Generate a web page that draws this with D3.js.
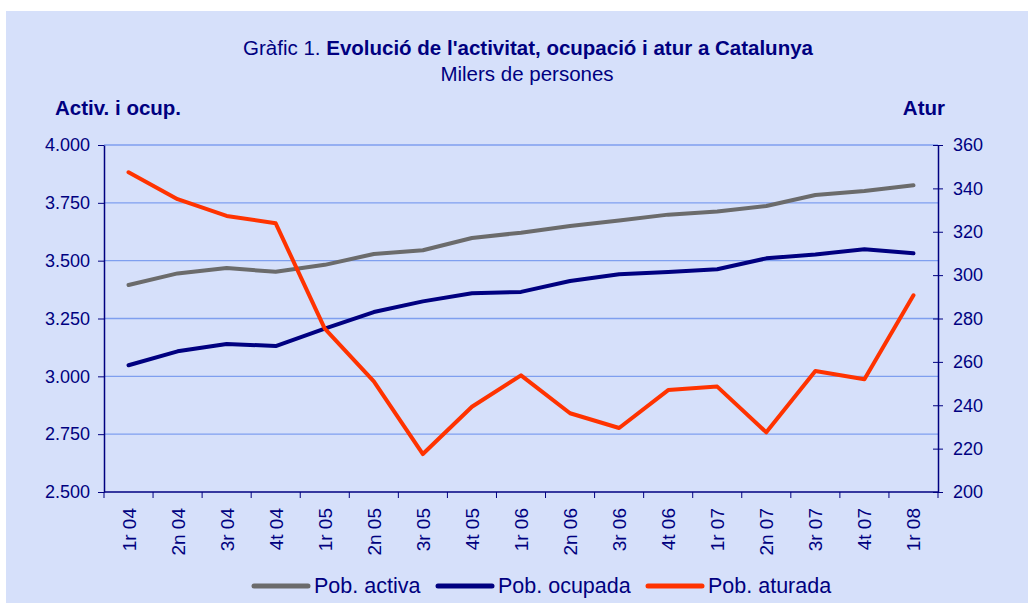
<!DOCTYPE html>
<html>
<head>
<meta charset="utf-8">
<script src="https://cdn.jsdelivr.net/npm/d3@7"></script>
<style>
  body { margin: 0; background: #fff; }
  svg text { font-family: "Liberation Sans", Arial, sans-serif; fill: #000080; }
</style>
</head>
<body>
<div id="chart"></div>
<script>
const quarters = ["1r 04","2n 04","3r 04","4t 04","1r 05","2n 05","3r 05","4t 05","1r 06","2n 06","3r 06","4t 06","1r 07","2n 07","3r 07","4t 07","1r 08"];
const activa  = [3395, 3445, 3468, 3452, 3482, 3529, 3545, 3598, 3621, 3650, 3674, 3699, 3713, 3736, 3784, 3801, 3826];
const ocupada = [3048, 3108, 3140, 3131, 3206, 3278, 3324, 3359, 3365, 3412, 3441, 3451, 3463, 3510, 3527, 3549, 3532];
const aturada = [347.4, 335.0, 327.3, 323.9, 275.3, 251.0, 217.5, 239.3, 253.8, 236.3, 229.5, 247.0, 248.6, 227.5, 255.8, 252.0, 290.7];
const leftTicks = [2500, 2750, 3000, 3250, 3500, 3750, 4000];
const rightTicks = [200, 220, 240, 260, 280, 300, 320, 340, 360];

const W = 1029, H = 603;
const plot = { l: 104, r: 938, t: 145, b: 492 };

const svg = d3.select("#chart").append("svg")
    .attr("width", W)
    .attr("height", H);

svg.append("rect")
    .attr("x", 6).attr("y", 11)
    .attr("width", 1022).attr("height", 592)
    .attr("fill", "#D6E0FA");

const x = d3.scaleBand().domain(quarters).range([plot.l, plot.r]);
const yL = d3.scaleLinear().domain([2500, 4000]).range([plot.b, plot.t]);
const yR = d3.scaleLinear().domain([200, 360]).range([plot.b, plot.t]);
const fmt = d => d3.format(",")(d).replace(",", ".");

// gridlines
svg.append("g")
    .selectAll("line")
    .data(leftTicks.slice(1))
    .join("line")
    .attr("x1", plot.l).attr("x2", plot.r)
    .attr("y1", d => yL(d)).attr("y2", d => yL(d))
    .attr("stroke", "#7F9FEF")
    .attr("stroke-width", 1.3);

// left axis
const gL = svg.append("g")
    .attr("transform", `translate(${plot.l},0)`)
    .call(d3.axisLeft(yL).tickValues(leftTicks).tickFormat(fmt).tickSize(6).tickSizeOuter(0));
gL.select(".domain").attr("stroke", "#000080").attr("stroke-width", 1.5);
gL.selectAll(".tick line").attr("stroke", "#000080");
gL.selectAll(".tick text").attr("x", -14).style("font-size", "18px").attr("fill", "#000080");

// right axis (ticks cross the line)
const gR = svg.append("g")
    .attr("transform", `translate(${plot.r},0)`)
    .call(d3.axisRight(yR).tickValues(rightTicks).tickSize(5).tickSizeOuter(0));
gR.select(".domain").attr("stroke", "#000080").attr("stroke-width", 1.5);
gR.selectAll(".tick line").attr("x1", -5).attr("stroke", "#000080");
gR.selectAll(".tick text").attr("x", 15).style("font-size", "18px").attr("fill", "#000080");

// bottom axis: ticks on category boundaries
const gB = svg.append("g")
    .attr("transform", `translate(0,${plot.b})`);
gB.append("line")
    .attr("x1", plot.l).attr("x2", plot.r)
    .attr("stroke", "#000080").attr("stroke-width", 1.5);
gB.selectAll("line.tk")
    .data(quarters.concat(["end"]))
    .join("line")
    .attr("class", "tk")
    .attr("x1", (d, i) => plot.l + i * x.step())
    .attr("x2", (d, i) => plot.l + i * x.step())
    .attr("y1", 0).attr("y2", 6)
    .attr("stroke", "#000080");
gB.selectAll("text")
    .data(quarters)
    .join("text")
    .attr("transform", d => `translate(${x(d) + x.bandwidth() / 2 + 7},16) rotate(-90)`)
    .attr("text-anchor", "end")
    .style("font-size", "19px")
    .text(d => d);

// lines
const cx = (d, i) => x(quarters[i]) + x.bandwidth() / 2;
const series = [
    { name: "Pob. activa", values: activa, y: yL, color: "#6B6B6B" },
    { name: "Pob. ocupada", values: ocupada, y: yL, color: "#000080" },
    { name: "Pob. aturada", values: aturada, y: yR, color: "#FF3300" }
];
series.forEach(s => {
    svg.append("path")
        .datum(s.values)
        .attr("fill", "none")
        .attr("stroke", s.color)
        .attr("stroke-width", 4)
        .attr("stroke-linecap", "round")
        .attr("stroke-linejoin", "round")
        .attr("d", d3.line().x(cx).y(d => s.y(d)));
});

// titles
const title = svg.append("text")
    .attr("x", 528).attr("y", 55)
    .attr("text-anchor", "middle")
    .style("font-size", "20.5px");
title.append("tspan").text("Gràfic 1. ");
title.append("tspan").style("font-weight", "bold").text("Evolució de l'activitat, ocupació i atur a Catalunya");

svg.append("text")
    .attr("x", 527).attr("y", 81)
    .attr("text-anchor", "middle")
    .style("font-size", "20.5px")
    .text("Milers de persones");

svg.append("text")
    .attr("x", 55).attr("y", 115)
    .style("font-size", "20.5px").style("font-weight", "bold")
    .text("Activ. i ocup.");

svg.append("text")
    .attr("x", 945).attr("y", 115)
    .attr("text-anchor", "end")
    .style("font-size", "20.5px").style("font-weight", "bold")
    .text("Atur");

// legend
const legX = [252, 436, 646];
const leg = svg.append("g");
series.forEach((s, i) => {
    leg.append("line")
        .attr("x1", legX[i] + 2).attr("x2", legX[i] + 56)
        .attr("y1", 586).attr("y2", 586)
        .attr("stroke", s.color).attr("stroke-width", 5)
        .attr("stroke-linecap", "round");
    leg.append("text")
        .attr("x", legX[i] + 62).attr("y", 593)
        .style("font-size", "21.5px")
        .text(s.name);
});
</script>
</body>
</html>
